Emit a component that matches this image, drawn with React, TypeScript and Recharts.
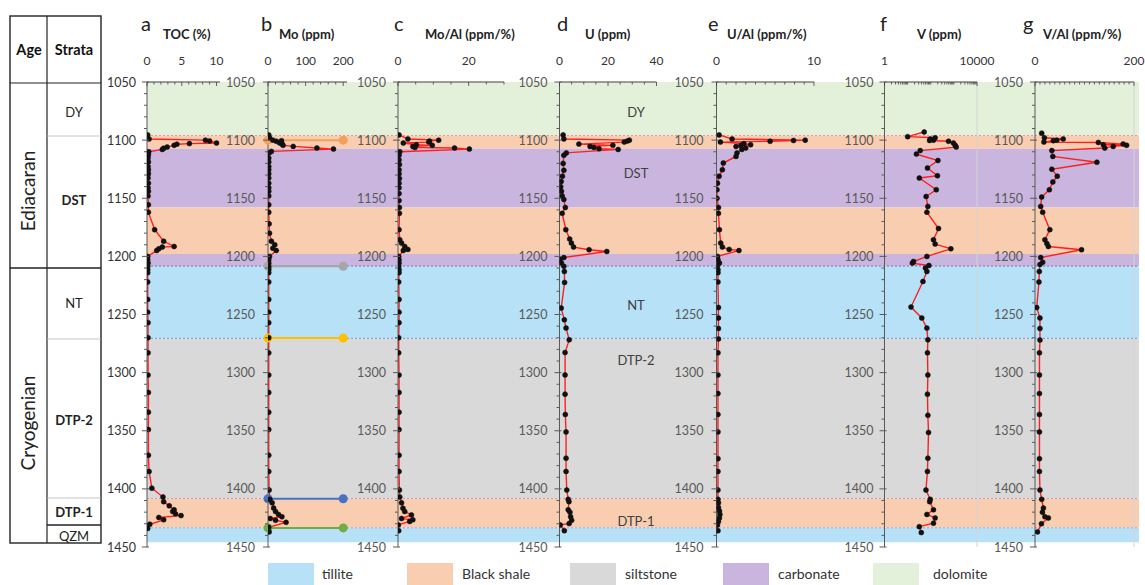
import React from 'react';
import { ComposedChart, Line, XAxis, YAxis, ReferenceArea, ReferenceLine, ReferenceDot } from 'recharts';

const W = 1145;
const H = 585;
const TOP = 82;
const BOTTOM = 547;
const FONT = 'Lato, "Open Sans", "DejaVu Sans", sans-serif';

// ---------- depth axis ----------
const depthLabels = [1050, 1100, 1150, 1200, 1250, 1300, 1350, 1400, 1450];
const depthTicks: number[] = [];
for (let d = 1050; d <= 1450; d += 10) depthTicks.push(d);

// ---------- lithology ----------
const bandLith = ['dolomite', 'Black shale', 'carbonate', 'Black shale', 'carbonate', 'tillite', 'siltstone', 'Black shale', 'tillite'];
const bandTop = [1050, 1096, 1107.5, 1158, 1198, 1208.3, 1270.5, 1408.3, 1433.5];
const bandBase = [1096, 1107.5, 1158, 1198, 1208.3, 1270.5, 1408.3, 1433.5, 1446];
const boundaryDepth = [1096, 1208.3, 1270.5, 1408.3, 1433.5];
const boundaryColor = ['#e39a9a', '#8a6fb5', '#7f8fd6', '#c898c8', '#9aa6e0'];

const legendLabels = ['tillite', 'Black shale', 'siltstone', 'carbonate', 'dolomite'];
const lithColor: Record<string, string> = {
  tillite: '#b6e1f6',
  'Black shale': '#f8cdb0',
  siltstone: '#d9d9d9',
  carbonate: '#cab5de',
  dolomite: '#e3f0da',
};

// stratigraphic unit labels inside panel d
const unitLabels = ['DY', 'DST', 'NT', 'DTP-2', 'DTP-1'];
const unitDepths = [1076, 1128, 1241.5, 1289, 1428];

// ---------- panel b boundary markers ----------
const markerDepth = [1100, 1208.5, 1270.3, 1408.5, 1433.6];
const markerColor = ['#f4a05a', '#a6a6a6', '#ffc000', '#4472c4', '#70ad47'];
const markerRange = [0, 200];

type Pair = [number, number];

// ---------- series: [depth (m), value] ----------
const tocData: Pair[] = [
  [1095.5, 0.1], [1099, 0.3], [1100, 8.4], [1100.7, 9.0], [1102.5, 10.0], [1103, 6.1], [1103.5, 4.3],
  [1104.5, 3.9], [1106, 2.9], [1107, 2.4], [1108, 2.2], [1110, 0.25], [1112.6, 0.2], [1115.4, 0.15],
  [1118.8, 0.2], [1122.6, 0.15], [1125.5, 0.2], [1129, 0.2], [1132.6, 0.15], [1137, 0.2], [1141, 0.15],
  [1144, 0.2], [1148, 0.15], [1155.6, 0.2], [1162, 0.2], [1177, 1.1], [1187, 2.4], [1191.5, 3.9],
  [1192, 2.2], [1193.5, 1.7], [1195, 1.4], [1200, 0.1], [1203, 0.1], [1205.8, 0.15], [1208.7, 0.1],
  [1211.5, 0.1], [1214, 0.1], [1222, 0.1], [1237, 0.1], [1248, 0.1], [1257, 0.15], [1270, 0.15],
  [1283, 0.15], [1302, 0.15], [1317, 0.2], [1334, 0.2], [1349, 0.2], [1371, 0.2], [1385, 0.3],
  [1399.4, 0.7], [1407, 2.3], [1411, 2.4], [1414.6, 3.2], [1418, 3.9], [1419.5, 3.7], [1421.5, 4.1],
  [1423, 4.9], [1424.6, 1.7], [1426.6, 2.4], [1430.4, 0.4], [1434, 0.1],
];

const moData: Pair[] = [
  [1095.5, 2], [1098, 4], [1100, 13], [1100.5, 36], [1101, 22], [1102.5, 31], [1103.5, 38], [1104.5, 40],
  [1105.4, 67], [1106.8, 130], [1107.7, 174], [1109.7, 9], [1111, 3], [1115.4, 2], [1118.8, 2],
  [1122.6, 2], [1125.5, 2], [1129, 2], [1132.6, 2], [1137, 2], [1141, 2], [1144, 2], [1148, 2],
  [1155.6, 2], [1162, 2], [1172, 3], [1180, 4], [1187, 9], [1190, 18], [1193, 13], [1195, 22],
  [1200, 4], [1203, 2], [1205.8, 2], [1208.7, 2], [1211.5, 2], [1214, 2], [1222, 2], [1237, 2],
  [1248, 2], [1257, 2], [1270, 2], [1283, 2], [1302, 2], [1317, 2], [1334, 2], [1349, 2], [1371, 2],
  [1385, 2], [1401, 3], [1409, 5], [1412, 11], [1416.5, 15], [1419.5, 20], [1422, 28], [1424, 37],
  [1425.5, 6], [1427, 20], [1428.8, 48], [1433, 2], [1437, 3],
];

const moAlData: Pair[] = [
  [1095.5, 0.3], [1099, 2.8], [1100, 11.5], [1100.8, 8.9], [1101.7, 8.7], [1102.5, 1.5], [1104, 5.2],
  [1104.5, 9.7], [1105.5, 4.2], [1106.3, 4.8], [1106.8, 16], [1107.7, 20.2], [1110, 0.5], [1113, 0.3],
  [1117, 0.3], [1121, 0.4], [1125.5, 0.3], [1129, 0.3], [1133, 0.4], [1137, 0.3], [1141, 0.3],
  [1146, 0.3], [1152, 0.3], [1158, 0.4], [1163, 0.4], [1177, 0.3], [1185.7, 0.5], [1188.6, 1.0],
  [1191.5, 1.9], [1194, 2.8], [1195, 1.5], [1200, 0.2], [1203, 0.3], [1205.8, 0.3], [1208.7, 0.2],
  [1211.5, 0.3], [1214, 0.3], [1222, 0.2], [1237, 0.3], [1248, 0.3], [1257, 0.3], [1270, 0.2],
  [1283, 0.2], [1302, 0.3], [1317, 0.3], [1334, 0.3], [1349, 0.3], [1371, 0.3], [1385, 0.3],
  [1401, 0.4], [1407, 0.5], [1412, 1.0], [1416.6, 1.4], [1419.5, 1.9], [1422.4, 3.8], [1425.5, 1.0],
  [1426.6, 4.2], [1428, 3.3], [1431, 0.1], [1436, 0.2],
];

const uData: Pair[] = [
  [1095.5, 1.5], [1099, 1.8], [1100, 28.8], [1100.8, 28], [1101.7, 26.7], [1103.4, 8], [1104.5, 22],
  [1105.4, 12.6], [1106.3, 14.2], [1107.4, 16.3], [1108, 24.2], [1111, 2.8], [1113, 1.8], [1120, 1.5],
  [1126, 1.8], [1131, 1.2], [1135.5, 0.7], [1140, 0.5], [1144, 0.8], [1148, 1.1], [1151, 1.8],
  [1158, 2.4], [1163, 1.1], [1177, 2.6], [1185, 4.2], [1188.6, 4.9], [1192, 5.8], [1194.3, 12.2],
  [1195.8, 19.5], [1201, 1.8], [1202.5, 0.3], [1205.7, 0.8], [1208.6, 1.8], [1213, 2], [1222.4, 2.1],
  [1244.5, 0.7], [1254.6, 2], [1261.7, 2.7], [1271.8, 4], [1282.7, 2.3], [1302, 2.3], [1318.5, 2.3],
  [1336, 2.4], [1351, 2.7], [1373.6, 2.7], [1385, 2.7], [1401, 3], [1409, 3.6], [1411, 3.9],
  [1418, 3.6], [1420, 4.3], [1424, 4.6], [1427, 5], [1429.8, 4], [1431, 0.3], [1436, 2],
];

const uAlData: Pair[] = [
  [1095.5, 0.27], [1099, 1.6], [1100, 9.1], [1100.3, 7.9], [1101, 5.5], [1101.7, 0.4], [1103, 2.8],
  [1104, 3.5], [1104.5, 2.5], [1105.5, 2.0], [1106.8, 3.0], [1108, 2.6], [1111, 2.1], [1114, 2.0],
  [1119.7, 0.7], [1125.5, 0.6], [1131, 0.27], [1137, 0.1], [1142.7, 0.05], [1150, 0.05], [1158, 0.2],
  [1163, 0.2], [1177, 0.3], [1188.6, 0.43], [1192, 0.6], [1194, 1.3], [1195, 2.3], [1200, 0.1],
  [1203, 0.15], [1205.7, 0.3], [1208, 0.1], [1211.5, 0.15], [1214, 0.15], [1222, 0.15], [1244, 0.2],
  [1253, 0.2], [1262, 0.2], [1271, 0.2], [1283, 0.15], [1302, 0.15], [1318, 0.15], [1336, 0.15],
  [1351, 0.15], [1374, 0.15], [1385, 0.15], [1401, 0.15], [1409, 0.15], [1412, 0.2], [1416, 0.2],
  [1419, 0.3], [1422, 0.35], [1425, 0.3], [1428, 0.2], [1431, 0.1], [1436, 0.15],
];

const vData: Pair[] = [
  [1093, 52], [1097, 10], [1098, 155], [1099, 95], [1100, 131], [1100.3, 89], [1101, 588],
  [1102.5, 955], [1104.5, 1140], [1106, 1260], [1109, 35], [1112, 24], [1117.5, 204], [1124, 72],
  [1130.6, 195], [1132.6, 32], [1142.7, 173], [1148.5, 63], [1157, 75], [1162, 68], [1176, 217],
  [1185.7, 131], [1189.4, 155], [1193.5, 741], [1200, 68], [1204.4, 18], [1205.8, 16], [1207.8, 83],
  [1210, 59], [1213, 68], [1221.6, 46], [1243.6, 14], [1253, 41], [1261.7, 68], [1271.8, 75],
  [1283, 72], [1302, 75], [1318.5, 72], [1336.7, 75], [1351.5, 80], [1373.6, 75], [1385, 72],
  [1401, 62], [1409, 95], [1411, 90], [1418, 131], [1422, 68], [1425, 155], [1429.5, 131],
  [1432.5, 32], [1437.6, 39],
];

const vAlData: Pair[] = [
  [1094, 13.5], [1098, 19], [1099, 57], [1100, 44], [1100.5, 37], [1101.7, 18], [1102, 128],
  [1103.4, 178], [1104, 138], [1104.5, 185], [1105.4, 158], [1106.8, 141], [1109, 34], [1114, 36],
  [1119, 125], [1125, 34], [1131, 45], [1136, 36], [1142.7, 29], [1149, 13.5], [1157, 11.5],
  [1162, 15.5], [1177, 30], [1185.7, 20], [1189, 24], [1191.5, 27], [1194.3, 94], [1201, 11.5],
  [1205, 15.5], [1207, 10], [1213, 8.7], [1222, 8], [1244, 3.4], [1253, 10], [1262, 10], [1272, 10],
  [1283, 9], [1302, 9], [1318, 9], [1336, 9], [1351, 9], [1374, 9], [1385, 9], [1401, 10],
  [1409, 13.5], [1416.5, 17], [1420, 15], [1424, 20], [1425, 27], [1430, 13], [1437, 5],
];

// ---------- axis tick values ----------
const range = (a: number, b: number, s: number) => {
  const out: number[] = [];
  for (let v = a; v <= b + 1e-9; v += s) out.push(Math.round(v * 1000) / 1000);
  return out;
};
const logTicks: number[] = [];
[1, 10, 100, 1000].forEach((dec) => {
  for (let m = 1; m < 10; m++) logTicks.push(dec * m);
});
logTicks.push(10000);

interface PanelCfg {
  key: string;
  letter: string;
  title: string;
  left: number;
  width: number;
  domain: [number, number];
  log?: boolean;
  ticks: number[];
  labels: number[];
  data: Pair[];
  letterX: number;
  titleX: number;
  yColor: string;
  yGap: number;
  markers?: boolean;
  rightLine?: boolean;
}

const panels: PanelCfg[] = [
  { key: 'a', letter: 'a', title: 'TOC (%)', left: 147, width: 73, domain: [0, 10.5], ticks: range(0, 10, 1), labels: [0, 5, 10], data: tocData, letterX: 141, titleX: 163, yColor: '#333', yGap: 11 },
  { key: 'b', letter: 'b', title: 'Mo (ppm)', left: 268, width: 79, domain: [0, 210], ticks: range(0, 200, 20), labels: [0, 100, 200], data: moData, letterX: 261, titleX: 279, yColor: '#595959', yGap: 13, markers: true },
  { key: 'c', letter: 'c', title: 'Mo/Al (ppm/%)', left: 398, width: 106, domain: [0, 30], ticks: range(0, 30, 5), labels: [0, 20], data: moAlData, letterX: 394, titleX: 425, yColor: '#595959', yGap: 12 },
  { key: 'd', letter: 'd', title: 'U (ppm)', left: 559.5, width: 97, domain: [0, 40], ticks: range(0, 40, 5), labels: [0, 20, 40], data: uData, letterX: 557, titleX: 585, yColor: '#595959', yGap: 12 },
  { key: 'e', letter: 'e', title: 'U/Al (ppm/%)', left: 716.5, width: 97.5, domain: [0, 10], ticks: range(0, 10, 1), labels: [0, 10], data: uAlData, letterX: 708, titleX: 727, yColor: '#595959', yGap: 13 },
  { key: 'f', letter: 'f', title: 'V (ppm)', left: 884.5, width: 92.5, domain: [1, 10000], log: true, ticks: logTicks, labels: [1, 10000], data: vData, letterX: 880, titleX: 917, yColor: '#595959', yGap: 11, rightLine: true },
  { key: 'g', letter: 'g', title: 'V/Al (ppm/%)', left: 1035, width: 99, domain: [0, 200], ticks: range(0, 200, 10), labels: [0, 200], data: vAlData, letterX: 1023, titleX: 1043, yColor: '#595959', yGap: 12, rightLine: true },
];

const makeYTick = (axisX: number, gap: number, color: string) => (props: any) => {
  const { y, payload } = props;
  const v = payload.value as number;
  const major = v % 50 === 0;
  return (
    <g>
      <line x1={axisX - (major ? 5 : 3)} x2={axisX + (major ? 2 : 0)} y1={y} y2={y} stroke="#595959" strokeWidth={1} />
      {major ? (
        <text x={axisX - gap} y={y + 4.5} textAnchor="end" fontSize={12.5} fill={color} fontFamily={FONT}>
          {v}
        </text>
      ) : null}
    </g>
  );
};

const makeXTick = (labels: number[]) => (props: any) => {
  const { x, payload } = props;
  const v = payload.value as number;
  const major = labels.includes(v);
  return (
    <g>
      <line x1={x} x2={x} y1={TOP} y2={TOP + (major ? 4 : 2.5)} stroke="#404040" strokeWidth={0.8} />
      {major ? (
        <text x={x} y={65} textAnchor="middle" fontSize={12} fill="#333" fontFamily={FONT}>
          {v}
        </text>
      ) : null}
    </g>
  );
};

function Background() {
  return (
    <ComposedChart
      width={W}
      height={H}
      layout="vertical"
      data={[{ v: 0, d: 1050 }, { v: 1, d: 1450 }]}
      margin={{ top: TOP, left: 147, right: W - 1139, bottom: H - BOTTOM }}
    >
      <XAxis type="number" domain={[0, 1]} height={0} tick={false} axisLine={false} tickLine={false} allowDataOverflow />
      <YAxis type="number" dataKey="d" domain={[1050, 1450]} width={0} tick={false} axisLine={false} tickLine={false} allowDataOverflow />
      {bandLith.map((lith, i) => (
        <ReferenceArea key={'b' + i} x1={0} x2={1} y1={bandTop[i]} y2={bandBase[i]} fill={lithColor[lith]} fillOpacity={1} stroke="none" ifOverflow="visible" />
      ))}
      {boundaryDepth.map((d, i) => (
        <ReferenceLine key={'l' + i} y={d} stroke={boundaryColor[i]} strokeDasharray="2 2" strokeWidth={1} />
      ))}
      <Line dataKey="v" stroke="none" dot={false} activeDot={false} isAnimationActive={false} />
    </ComposedChart>
  );
}

function Panel({ cfg }: { cfg: PanelCfg }) {
  const rows = cfg.data.map(([d, v]) => ({ d, v }));
  return (
    <ComposedChart
      width={W}
      height={H}
      layout="vertical"
      data={rows}
      margin={{ top: TOP - 30, left: cfg.left - 40, right: W - cfg.left - cfg.width, bottom: H - BOTTOM }}
    >
      <XAxis
        type="number"
        orientation="top"
        domain={cfg.domain}
        scale={cfg.log ? 'log' : 'auto'}
        ticks={cfg.ticks}
        interval={0}
        height={30}
        axisLine={{ stroke: '#404040', strokeWidth: 1 }}
        tickLine={false}
        tick={makeXTick(cfg.labels)}
        allowDataOverflow
      />
      <YAxis
        type="number"
        dataKey="d"
        domain={[1050, 1450]}
        ticks={depthTicks}
        interval={0}
        width={40}
        axisLine={{ stroke: '#595959', strokeWidth: 1 }}
        tickLine={false}
        tick={makeYTick(cfg.left, cfg.yGap, cfg.yColor)}
        allowDataOverflow
      />
      {cfg.rightLine ? <ReferenceLine x={cfg.domain[1]} stroke="#d4d4d4" strokeWidth={1} /> : null}
      {cfg.markers
        ? markerDepth.map((d, i) => (
            <ReferenceLine
              key={'m' + i}
              segment={[{ x: markerRange[0], y: d }, { x: markerRange[1], y: d }]}
              stroke={markerColor[i]}
              strokeWidth={2}
              ifOverflow="visible"
            />
          ))
        : null}
      {cfg.markers
        ? markerDepth.flatMap((d, i) =>
            markerRange.map((x, j) => (
              <ReferenceDot key={'md' + i + '_' + j} x={x} y={d} r={4.5} fill={markerColor[i]} stroke="none" ifOverflow="visible" />
            ))
          )
        : null}
      <Line
        dataKey="v"
        stroke="#ff1f1f"
        strokeWidth={1.4}
        dot={{ r: 2.5, fill: '#111', stroke: '#111', strokeWidth: 0.5 }}
        isAnimationActive={false}
      />
    </ComposedChart>
  );
}

const depthToY = (d: number) => TOP + ((d - 1050) / 400) * (BOTTOM - TOP);

function StrataTable() {
  const strata = [
    { t: 'DY', y: 112, b: false },
    { t: 'DST', y: 200, b: true },
    { t: 'NT', y: 303, b: false },
    { t: 'DTP-2', y: 420, b: true },
    { t: 'DTP-1', y: 512, b: true },
    { t: 'QZM', y: 536, b: false },
  ];
  return (
    <svg width={110} height={560} style={{ position: 'absolute', left: 0, top: 0 }}>
      <rect x={10} y={16} width={91} height={527} fill="none" stroke="#222" strokeWidth={1.4} />
      <line x1={47} y1={16} x2={47} y2={543} stroke="#222" strokeWidth={1.2} />
      <line x1={10} y1={83} x2={101} y2={83} stroke="#222" strokeWidth={1.2} />
      <line x1={10} y1={268} x2={101} y2={268} stroke="#222" strokeWidth={1.5} />
      <line x1={47} y1={136} x2={101} y2={136} stroke="#b5b5b5" strokeWidth={0.8} />
      <line x1={47} y1={339} x2={101} y2={339} stroke="#b5b5b5" strokeWidth={0.8} />
      <line x1={47} y1={498} x2={101} y2={498} stroke="#b5b5b5" strokeWidth={0.8} />
      <line x1={47} y1={525} x2={101} y2={525} stroke="#222" strokeWidth={1.4} />
      <text x={29} y={55} textAnchor="middle" fontSize={14.5} fontWeight={700} fill="#111" fontFamily={FONT}>Age</text>
      <text x={74} y={55} textAnchor="middle" fontSize={14.5} fontWeight={700} fill="#111" fontFamily={FONT}>Strata</text>
      <text transform="translate(35,191) rotate(-90)" textAnchor="middle" fontSize={19} fill="#222" fontFamily={FONT}>Ediacaran</text>
      <text transform="translate(35,423) rotate(-90)" textAnchor="middle" fontSize={19} fill="#222" fontFamily={FONT}>Cryogenian</text>
      {strata.map((s) => (
        <text key={s.t} x={74} y={s.y + 4.5} textAnchor="middle" fontSize={13} fontWeight={s.b ? 700 : 400} fill="#222" fontFamily={FONT}>
          {s.t}
        </text>
      ))}
    </svg>
  );
}

const legendBoxX = [268, 407, 570, 723, 873];
const legendTextX = [322, 462, 625, 778, 933];

export default function App() {
  return (
    <div style={{ position: 'absolute', left: 0, top: 0, width: W, height: H, background: '#fff', overflow: 'hidden', fontFamily: FONT }}>
      <div style={{ position: 'absolute', left: 0, top: 0 }}>
        <Background />
      </div>
      {panels.map((p) => (
        <div key={p.key} style={{ position: 'absolute', left: 0, top: 0 }}>
          <Panel cfg={p} />
        </div>
      ))}
      <StrataTable />
      {panels.map((p) => (
        <React.Fragment key={'t' + p.key}>
          <div style={{ position: 'absolute', left: p.letterX, top: 11, fontSize: 20, lineHeight: '24px', color: '#222' }}>{p.letter}</div>
          <div style={{ position: 'absolute', left: p.titleX, top: 24.5, fontSize: 13, lineHeight: '18px', fontWeight: 700, color: '#222', whiteSpace: 'nowrap' }}>{p.title}</div>
        </React.Fragment>
      ))}
      {unitLabels.map((u, i) => (
        <div key={u} style={{ position: 'absolute', left: 636 - 30, width: 60, textAlign: 'center', top: depthToY(unitDepths[i]) - 9, fontSize: 13, lineHeight: '18px', color: '#404040' }}>
          {u}
        </div>
      ))}
      {legendLabels.map((l, i) => (
        <React.Fragment key={'lg' + l}>
          <div style={{ position: 'absolute', left: legendBoxX[i], top: 563, width: 46, height: 24, background: lithColor[l] }} />
          <div style={{ position: 'absolute', left: legendTextX[i], top: 565, fontSize: 14, lineHeight: '18px', color: '#333', whiteSpace: 'nowrap' }}>{l}</div>
        </React.Fragment>
      ))}
    </div>
  );
}
